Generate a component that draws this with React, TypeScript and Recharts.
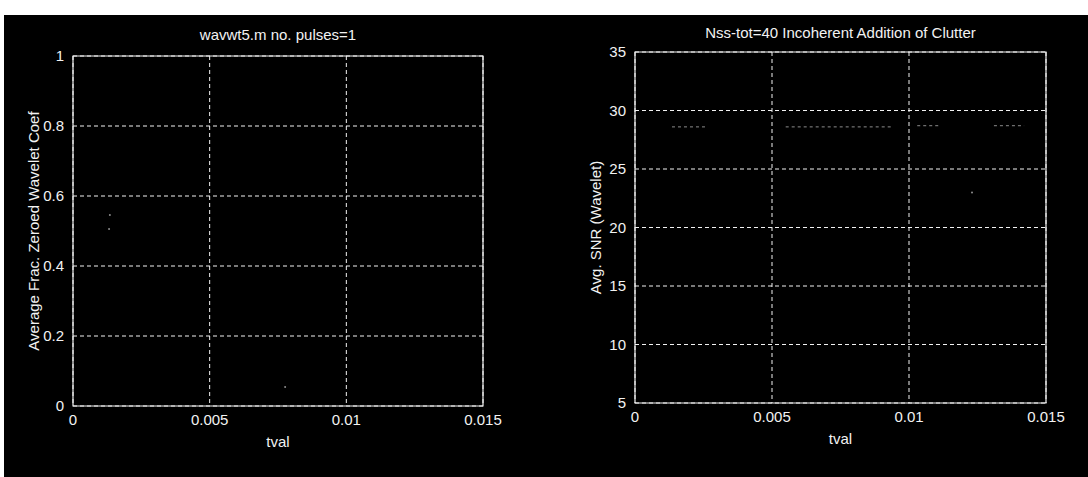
import { ComposedChart, Line, Scatter, XAxis, YAxis, CartesianGrid, ReferenceArea } from 'recharts';

// x axis shared by both panels
const tvalTicks = [0, 0.005, 0.01, 0.015];

// left panel: average fraction of zeroed wavelet coefficients
const fracTicks = [0, 0.2, 0.4, 0.6, 0.8, 1];
const fracT = [0.00135, 0.00132, 0.00776];
const fracV = [0.546, 0.506, 0.054];

// right panel: avg SNR, faint dotted trace (null = invisible gap)
const snrTicks = [5, 10, 15, 20, 25, 30, 35];
const snrT = [0.00135, 0.0026, 0.004, 0.0055, 0.0094, 0.0099, 0.0103, 0.0111, 0.0121, 0.0131, 0.0142];
const snrV = [28.6, 28.6, null, 28.6, 28.6, null, 28.7, 28.7, null, 28.7, 28.7];
const snrOddT = [0.0123];
const snrOddV = [23.0];

const FONT = '"Liberation Sans", Arial, sans-serif';
const FG = '#f2f2f2';
const TRACE = '#8c8c8c';
const Y_AXIS_W = 40;

const tinyDot = (p: any) => <circle cx={p.cx} cy={p.cy} r={1} fill={TRACE} />;

function Panel({ left, title, titleY, ylabel, yTicks, ydx, margin, line, dots }: any) {
  const yDomain = [yTicks[0], yTicks[yTicks.length - 1]];
  const tick = { fill: FG, fontSize: 15, fontFamily: FONT };
  const plotLeft = margin.left + Y_AXIS_W;
  const plotW = 544 - plotLeft - margin.right;
  return (
    <div style={{ position: 'absolute', left, top: 0, width: 544, height: 477 }}>
      <div style={{
        position: 'absolute', left: plotLeft, width: plotW, top: titleY - 9, textAlign: 'center',
        color: FG, fontFamily: FONT, fontSize: 15, lineHeight: '18px', whiteSpace: 'nowrap',
      }}>
        {title}
      </div>
      <ComposedChart width={544} height={477} margin={margin}>
        <CartesianGrid stroke={FG} strokeDasharray="4 3" />
        <XAxis
          type="number" dataKey="t" domain={[0, 0.015]} ticks={tvalTicks}
          tickFormatter={(v: number) => String(v)} tick={tick}
          tickSize={0} tickMargin={8} height={30} axisLine={false} allowDataOverflow
          label={{ value: 'tval', position: 'bottom', offset: 0, fill: FG, fontSize: 15, fontFamily: FONT }}
        />
        <YAxis
          type="number" dataKey="v" domain={yDomain} ticks={yTicks}
          tickFormatter={(v: number) => String(v)} tick={tick}
          tickSize={0} tickMargin={9} width={Y_AXIS_W} axisLine={false} allowDataOverflow
          label={{ value: ylabel, angle: -90, position: 'center', dx: ydx, fill: FG, fontSize: 15, fontFamily: FONT }}
        />
        <ReferenceArea x1={0} x2={0.015} y1={yDomain[0]} y2={yDomain[1]} fill="none" stroke={FG} strokeWidth={1.2} />
        {line && (
          <Line data={line} dataKey="v" stroke={TRACE} strokeDasharray="3 3" dot={false} isAnimationActive={false} />
        )}
        <Scatter data={dots} dataKey="v" shape={tinyDot} isAnimationActive={false} />
      </ComposedChart>
    </div>
  );
}

export default function App() {
  const fracDots = fracT.map((t, i) => ({ t, v: fracV[i] }));
  const snrLine = snrT.map((t, i) => ({ t, v: snrV[i] }));
  const snrDots = snrOddT.map((t, i) => ({ t, v: snrOddV[i] }));

  return (
    <div style={{ position: 'absolute', left: 0, top: 0, width: 1088, height: 477, background: '#fff', overflow: 'hidden' }}>
      <div style={{ position: 'absolute', left: 4, top: 15, width: 1084, height: 462, background: '#000' }} />
      <Panel
        left={0} title="wavwt5.m no. pulses=1" titleY={35}
        ylabel="Average Frac. Zeroed Wavelet Coef" yTicks={fracTicks} ydx={-19}
        margin={{ top: 56, right: 61, bottom: 41, left: 33 }}
        dots={fracDots}
      />
      <Panel
        left={544} title="Nss-tot=40 Incoherent Addition of Clutter" titleY={33}
        ylabel="Avg. SNR (Wavelet)" yTicks={snrTicks} ydx={-19}
        margin={{ top: 52, right: 42, bottom: 44, left: 51 }}
        line={snrLine} dots={snrDots}
      />
    </div>
  );
}
